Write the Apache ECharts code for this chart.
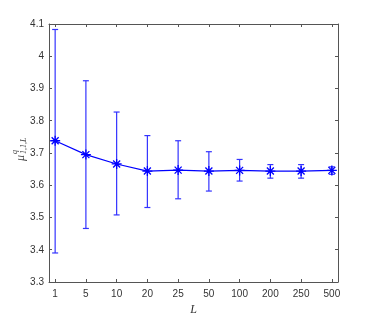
<!DOCTYPE html>
<html>
<head>
<meta charset="utf-8">
<script src="https://cdn.jsdelivr.net/npm/echarts@6/dist/echarts.min.js"></script>
<style>
  html, body { margin: 0; padding: 0; background: #fff; }
  #chart { width: 374px; height: 321px; }
</style>
</head>
<body>
<div id="chart"></div>
<script>
// L values on the x axis (evenly spaced)
var lLabels = ["1", "5", "10", "20", "25", "50", "100", "200", "250", "500"];
var meanVals = [3.738, 3.695, 3.666, 3.644, 3.647, 3.644, 3.646, 3.644, 3.644, 3.646];
var upperVals = [4.083, 3.924, 3.827, 3.754, 3.738, 3.704, 3.680, 3.664, 3.664, 3.657];
var lowerVals = [3.390, 3.466, 3.508, 3.531, 3.558, 3.582, 3.613, 3.622, 3.622, 3.634];

var positions = lLabels.map(function (l, i) { return i + 1; });
var blue = "#0000ff";
var axisColor = "#555";
var labelFont = "Liberation Sans";

var chart = echarts.init(document.getElementById("chart"));

var lineData = positions.map(function (p, i) { return [p, meanVals[i]]; });
var errData = positions.map(function (p, i) { return [p, lowerVals[i], upperVals[i]]; });

// vertical error bar with small caps
function renderErr(params, api) {
  var x = api.value(0);
  var lo = api.coord([x, api.value(1)]);
  var hi = api.coord([x, api.value(2)]);
  var hw = 3;
  var style = { stroke: "#3333ff", lineWidth: 1.2 };
  return {
    type: "group",
    children: [
      { type: "line", shape: { x1: lo[0], y1: lo[1], x2: hi[0], y2: hi[1] }, style: style },
      { type: "line", shape: { x1: hi[0] - hw, y1: hi[1], x2: hi[0] + hw, y2: hi[1] }, style: style },
      { type: "line", shape: { x1: lo[0] - hw, y1: lo[1], x2: lo[0] + hw, y2: lo[1] }, style: style }
    ]
  };
}

var xCommon = {
  type: "value",
  min: 0.8,
  max: 10.2,
  splitLine: { show: false },
  axisLine: { show: true, onZero: false, lineStyle: { color: axisColor, width: 1 } },
  axisTick: { show: true, inside: true, length: 3, customValues: positions, lineStyle: { color: axisColor } }
};
var yCommon = {
  type: "value",
  min: 3.3,
  max: 4.1,
  interval: 0.1,
  splitLine: { show: false },
  axisLine: { show: true, onZero: false, lineStyle: { color: axisColor, width: 1 } },
  axisTick: { show: true, inside: true, length: 3, lineStyle: { color: axisColor } }
};

chart.setOption({
  animation: false,
  grid: { left: 49, right: 36, top: 24, bottom: 36 },
  xAxis: [
    Object.assign({}, xCommon, {
      position: "bottom",
      name: "L",
      nameLocation: "middle",
      nameGap: 22,
      nameTextStyle: { fontFamily: "Liberation Serif", fontStyle: "italic", fontSize: 12, color: "#333" },
      axisLabel: {
        customValues: positions,
        fontFamily: labelFont,
        fontSize: 10,
        color: "#333",
        margin: 7,
        formatter: function (v) { return lLabels[Math.round(v) - 1]; }
      }
    }),
    Object.assign({}, xCommon, { position: "top", axisLabel: { show: false } })
  ],
  yAxis: [
    Object.assign({}, yCommon, {
      position: "left",
      axisLabel: {
        fontFamily: labelFont,
        fontSize: 10,
        color: "#333",
        margin: 5,
        formatter: function (v) { return String(Number(v.toFixed(1))); }
      }
    }),
    Object.assign({}, yCommon, { position: "right", axisLabel: { show: false } })
  ],
  graphic: [
    {
      type: "group",
      x: 21,
      y: 149,
      rotation: Math.PI / 2,
      children: [
        { type: "text", x: -12, y: 0, style: { text: "μ", font: "italic 12px 'Liberation Serif'", fill: "#444", textVerticalAlign: "middle" } },
        { type: "text", x: -5, y: -6, style: { text: "q", font: "italic 8px 'Liberation Serif'", fill: "#444", textVerticalAlign: "middle" } },
        { type: "text", x: -5, y: 3, style: { text: "1,1,L", font: "italic 8px 'Liberation Serif'", fill: "#444", textVerticalAlign: "middle" } }
      ]
    }
  ],
  series: [
    {
      type: "custom",
      xAxisIndex: 0,
      yAxisIndex: 0,
      renderItem: renderErr,
      data: errData,
      z: 2
    },
    {
      type: "line",
      xAxisIndex: 0,
      yAxisIndex: 0,
      data: lineData,
      lineStyle: { color: blue, width: 1.2 },
      symbol: "path://M0,5L10,5M5,0L5,10M1.5,1.5L8.5,8.5M1.5,8.5L8.5,1.5",
      symbolSize: 10,
      itemStyle: { color: blue, borderColor: blue, borderWidth: 1.3 },
      z: 3
    }
  ]
});
</script>
</body>
</html>
